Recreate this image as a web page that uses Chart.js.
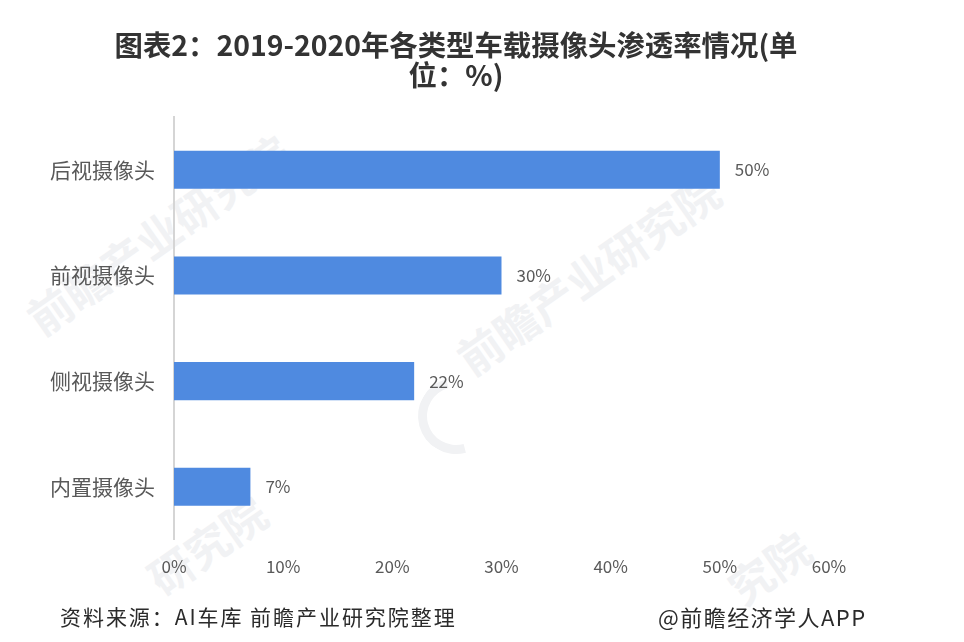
<!DOCTYPE html>
<html>
<head>
<meta charset="utf-8">
<script src="https://cdn.jsdelivr.net/npm/chart.js@4"></script>
<style>
  html, body { margin: 0; padding: 0; background: #fff; }
  #wrap { position: relative; width: 964px; height: 642px; overflow: hidden; font-family: "Noto Sans CJK SC", sans-serif; }
  #c { position: absolute; left: 0; top: 0; }
  .t { position: absolute; white-space: nowrap; }
  #title { left: 0; width: 912px; top: 29px; text-align: center; font-size: 28.4px; line-height: 30px; font-weight: 700; color: #333; }
  #src { left: 60px; top: 600px; font-size: 21px; line-height: 32px; color: #2b2b2b; letter-spacing: 1.95px; }
  #app { left: 658px; top: 600px; font-size: 22px; line-height: 32px; color: #2b2b2b; letter-spacing: 1.45px; }
  .wm { position: absolute; font-size: 44px; line-height: 44px; font-weight: 700; color: #f1f2f4; white-space: nowrap; transform: rotate(-35deg); transform-origin: left bottom; }
  #logo { position: absolute; left: 418px; top: 378px; width: 58px; height: 58px; border: 9px solid #f1f2f4; border-color: #f1f2f4 transparent transparent #f1f2f4; border-radius: 50%; transform: rotate(-60deg); }
</style>
</head>
<body>
<div id="wrap">
  <div class="wm" style="left:44px;top:296px;">前瞻产业研究院</div>
  <div class="wm" style="left:474px;top:336px;">前瞻产业研究院</div>
  <div class="wm" style="left:165px;top:556px;">研究院</div>
  <div class="wm" style="left:745px;top:566px;">究院</div>
  <div id="logo"></div>
  <canvas id="c" width="964" height="642"></canvas>
  <div id="title" class="t">图表2：2019-2020年各类型车载摄像头渗透率情况(单<br>位：%)</div>
  <div id="src" class="t">资料来源：AI车库 前瞻产业研究院整理</div>
  <div id="app" class="t">@前瞻经济学人APP</div>
</div>
<script>
const categories = ['后视摄像头', '前视摄像头', '侧视摄像头', '内置摄像头'];
const penetration = [50, 30, 22, 7];
const tickValues = [0, 10, 20, 30, 40, 50, 60];

const valueLabels = {
  id: 'valueLabels',
  afterDatasetsDraw(chart) {
    const ctx = chart.ctx;
    const meta = chart.getDatasetMeta(0);
    ctx.save();
    ctx.font = '17px "Noto Sans CJK SC"';
    ctx.fillStyle = '#595959';
    ctx.textBaseline = 'middle';
    meta.data.forEach((bar, i) => {
      ctx.fillText(penetration[i] + '%', bar.x + 15, bar.y);
    });
    ctx.restore();
  }
};

new Chart(document.getElementById('c').getContext('2d'), {
  type: 'bar',
  data: {
    labels: categories,
    datasets: [{
      data: penetration,
      backgroundColor: '#4F8AE0',
      categoryPercentage: 0.36,
      barPercentage: 1
    }]
  },
  options: {
    indexAxis: 'y',
    responsive: false,
    animation: false,
    layout: { padding: { left: 31, top: 117, right: 135, bottom: 56 } },
    plugins: { legend: { display: false }, tooltip: { enabled: false } },
    scales: {
      x: {
        min: 0,
        max: 60,
        afterBuildTicks(axis) { axis.ticks = tickValues.map(v => ({ value: v })); },
        grid: { display: false },
        border: { display: false },
        ticks: {
          color: '#595959',
          font: { size: 17, family: '"Noto Sans CJK SC"' },
          padding: 9,
          maxRotation: 0,
          callback: v => v + '%'
        }
      },
      y: {
        grid: { display: false, drawTicks: false },
        border: { color: '#d5d5d5', width: 2 },
        ticks: {
          color: '#595959',
          font: { size: 21, family: '"Noto Sans CJK SC"' },
          padding: 19
        }
      }
    }
  },
  plugins: [valueLabels]
});
</script>
</body>
</html>
